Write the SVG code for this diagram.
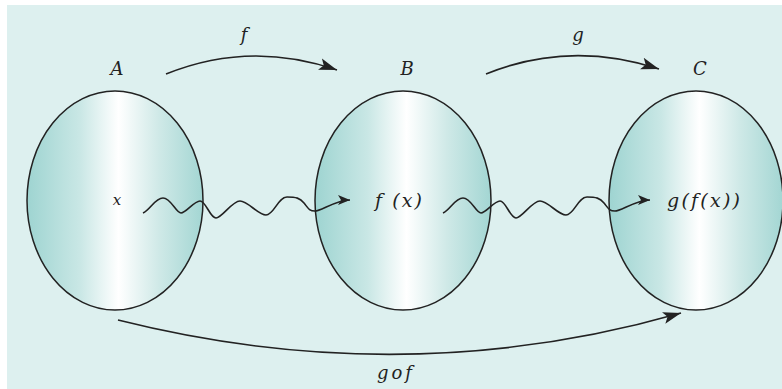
<svg xmlns="http://www.w3.org/2000/svg" width="782" height="389" viewBox="0 0 782 389">
<style>
.lbl{font-family:"DejaVu Serif","Liberation Serif",serif;font-style:italic;fill:#222}
.set{stroke:#222;stroke-width:1.5;fill:url(#shade)}
.con{fill:none;stroke:#222;stroke-width:1.6}
</style>
<defs>
<linearGradient id="shade" x1="0" y1="0" x2="1" y2="0">
<stop offset="0" stop-color="#9ed4d1"/>
<stop offset="0.3" stop-color="#c9e7e5"/>
<stop offset="0.52" stop-color="#ffffff"/>
<stop offset="0.75" stop-color="#cfe9e7"/>
<stop offset="1" stop-color="#a3d6d3"/>
</linearGradient>
<marker id="big" markerUnits="userSpaceOnUse" markerWidth="20" markerHeight="14" refX="18" refY="7" orient="auto">
<path d="M0,1 L18,7 L0,13 L4,7 z" fill="#222"/>
</marker>
<marker id="small" markerUnits="userSpaceOnUse" markerWidth="14" markerHeight="10" refX="12" refY="5" orient="auto">
<path d="M0,0 L12,5 L0,10 L3,5 z" fill="#222"/>
</marker>
</defs>
<rect x="7" y="5" width="775" height="384" fill="#ddf0ef"/>
<g id="setA">
<ellipse class="set" cx="115" cy="200.5" rx="88" ry="109.5"/>
<text class="lbl" x="117" y="75" font-size="18" text-anchor="middle">A</text>
<text class="lbl" x="117" y="205" font-size="15" text-anchor="middle">x</text>
</g>
<g id="setB">
<ellipse class="set" cx="403" cy="200.5" rx="88" ry="109.5"/>
<text class="lbl" x="407" y="75" font-size="18" text-anchor="middle">B</text>
<text class="lbl" x="375" y="207" font-size="19" textLength="47" lengthAdjust="spacing">f (x)</text>
</g>
<g id="setC">
<ellipse class="set" cx="696" cy="200.5" rx="87" ry="109.5"/>
<text class="lbl" x="700" y="75" font-size="18" text-anchor="middle">C</text>
<text class="lbl" x="667" y="207" font-size="19" textLength="73" lengthAdjust="spacing">g(f(x))</text>
</g>
<g id="connectors">
<path class="con" d="M166,74 Q250,40 337,70" marker-end="url(#big)"/>
<text class="lbl" x="244" y="41" font-size="18" text-anchor="middle">f</text>
<path class="con" d="M486,74 Q570,40 659,69" marker-end="url(#big)"/>
<text class="lbl" x="578" y="41" font-size="18" text-anchor="middle">g</text>
<path class="con" d="M118,320 Q405,392 681,313" marker-end="url(#big)"/>
<text class="lbl" x="377" y="379" font-size="18" textLength="35" lengthAdjust="spacing">gof</text>
<path id="wave1" class="con" d="M143,213 C150,210 155,198 163,198 S176,213 181,213 S194,201 200,201 S210,218 216,218 S232,201 240,201 S258,215 266,215 S278,197 287,197 S300,198 304,203 S309,211 315,211 S336,200 350,200" marker-end="url(#small)"/>
<path id="wave2" class="con" transform="translate(300,0)" d="M143,213 C150,210 155,198 163,198 S176,213 181,213 S194,201 200,201 S210,218 216,218 S232,201 240,201 S258,215 266,215 S278,197 287,197 S300,198 304,203 S309,211 315,211 S336,200 350,200" marker-end="url(#small)"/>
</g>
</svg>
